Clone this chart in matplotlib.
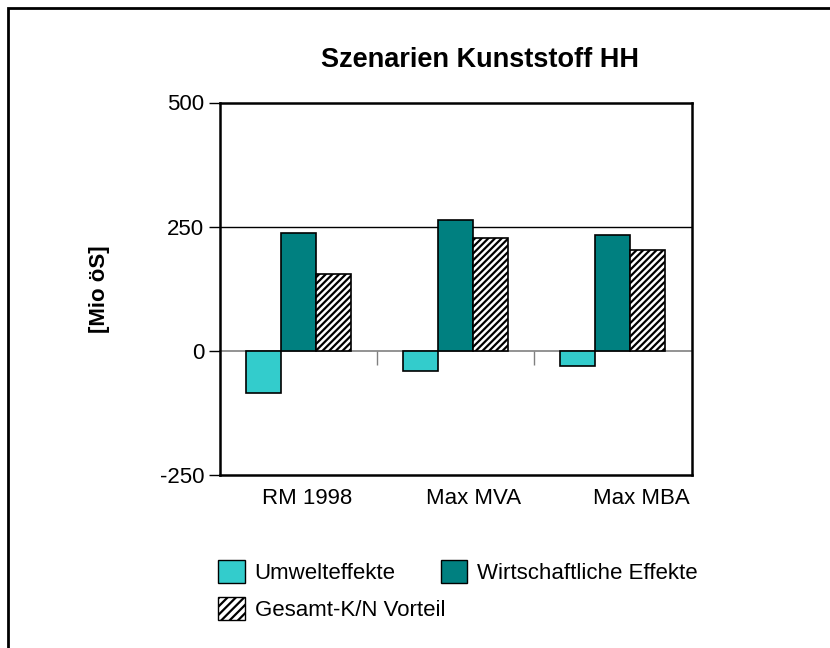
import numpy as np
import matplotlib
matplotlib.use("Agg")
import matplotlib.pyplot as plt
from matplotlib.patches import Patch, Rectangle
from matplotlib.transforms import ScaledTranslation

plt.rcParams['font.family'] = ['Liberation Sans', 'DejaVu Sans']

# data
categories = ['RM 1998', 'Max MVA', 'Max MBA']
umwelt = [-84, -40, -30]
wirtschaft = [237, 264, 233]
gesamt = [155, 227, 204]
yticks = [-250, 0, 250, 500]

fig = plt.figure(figsize=(8.3, 6.48), dpi=100)
ax = fig.add_axes([219.5 / 830, 1 - 475 / 648, 472 / 830, 372.5 / 648])

x = np.arange(len(categories))
w = 0.222
ax.bar(x - w, umwelt, w, color='#33CCCC', edgecolor='black', linewidth=1.2, zorder=3)
ax.bar(x, wirtschaft, w, color='#008080', edgecolor='black', linewidth=1.2, zorder=3)
plt.rcParams['hatch.linewidth'] = 1.6
ax.bar(x + w, gesamt, w, color='white', edgecolor='black', hatch='/////',
       linewidth=1.2, zorder=3)

ax.set_xlim(-0.5, 2.5)
ax.set_ylim(-250, 500)
ax.set_yticks(yticks)
ax.set_yticklabels([str(t) for t in yticks])
ax.tick_params(axis='y', length=8, width=1, pad=3, labelsize=16)
ax.set_xticks(x)
ax.set_xticklabels(categories)
ax.tick_params(axis='x', length=0, pad=9, labelsize=16)
# labels sit a little right of the groups in the original
for lbl, dx in zip(ax.get_xticklabels(), [9, 18, 29]):
    lbl.set_transform(lbl.get_transform() + ScaledTranslation(dx / 100, 0, fig.dpi_scale_trans))

for s in ax.spines.values():
    s.set_linewidth(1.8)

ax.axhline(250, color='black', linewidth=1, zorder=1)

# category axis crossing at zero
zero = (0 - ax.get_ylim()[0]) / (ax.get_ylim()[1] - ax.get_ylim()[0])
sec = ax.secondary_xaxis(zero)
sec.spines['bottom'].set_color('#808080')
sec.spines['bottom'].set_linewidth(1.2)
sec.set_xticks([0.5, 1.5])
sec.set_xticklabels([])
sec.tick_params(axis='x', direction='out', length=10, width=1, color='#808080')

ax.set_ylabel('[Mio öS]', fontsize=16, fontweight='bold', labelpad=36)
fig.text(480 / 830, 1 - 60 / 648, 'Szenarien Kunststoff HH', fontsize=19.5,
         fontweight='bold', ha='center', va='center')

handles = [Patch(facecolor='#33CCCC', edgecolor='black', label='Umwelteffekte'),
           Patch(facecolor='white', edgecolor='black', hatch='////', label='Gesamt-K/N Vorteil'),
           Patch(facecolor='#008080', edgecolor='black', label='Wirtschaftliche Effekte')]
fig.legend(handles=handles, ncol=2, frameon=False, fontsize=16,
           loc='upper left', bbox_to_anchor=(218 / 830, 1 - 560 / 648),
           handlelength=1.2, handleheight=1.2, handletextpad=0.45,
           columnspacing=-0.2, labelspacing=0.6, borderpad=0, borderaxespad=0)

# outer frame (top and left edges visible)
fig.patches.append(Rectangle((8 / 830, -0.1), 2, 1 - 8 / 648 + 0.1, transform=fig.transFigure,
                             fill=False, edgecolor='black', linewidth=2))

fig.savefig('out.png', dpi=100)
